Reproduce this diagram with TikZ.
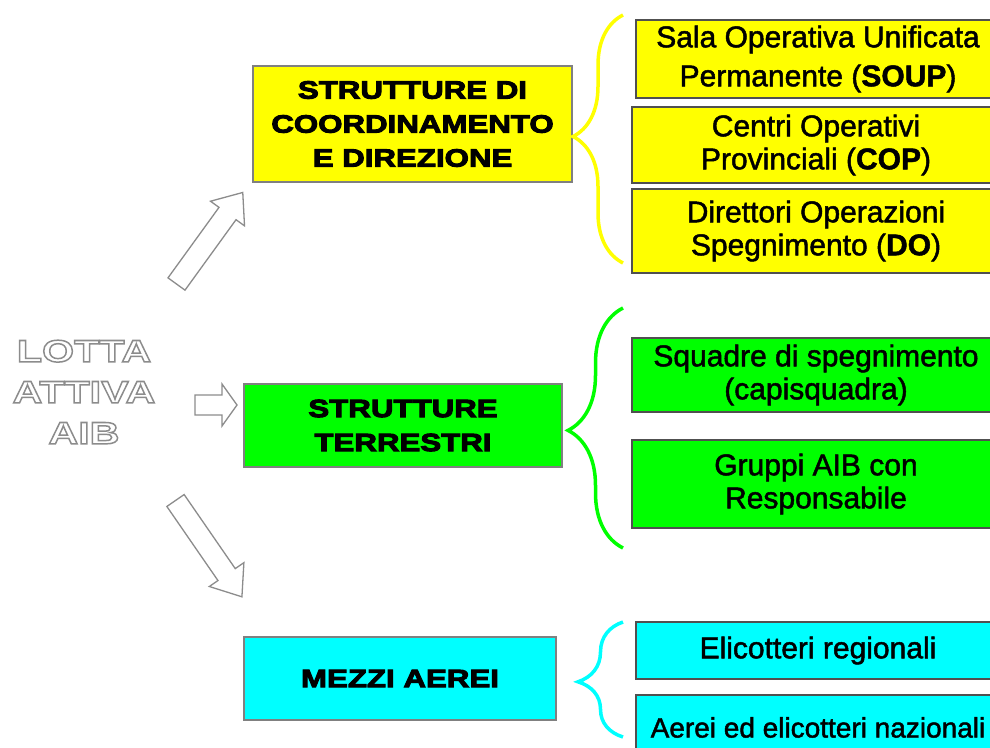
\documentclass[tikz,border=0pt]{standalone}
\usepackage{fontspec}
\setmainfont{Liberation Sans}
\newfontfamily\widefont[FakeStretch=1.25, FakeBold=4]{Liberation Sans}
\newfontfamily\lottafont[FakeStretch=1.33]{Liberation Sans}
\newfontfamily\subfont[FakeBold=1.6]{Liberation Sans}
\usetikzlibrary{decorations.pathreplacing}
\definecolor{cyel}{HTML}{FFFF00}
\definecolor{cgrn}{HTML}{00FF00}
\definecolor{ccyn}{HTML}{00FFFF}
\definecolor{cbrd}{HTML}{808080}
\definecolor{csub}{HTML}{505050}
\newcommand\outlinetext[1]{%
  \textcolor{white}{\special{pdf:literal direct 2 Tr 1.5 w 0.55 0.55 0.55 RG}#1\special{pdf:literal direct 0 Tr}}}
\tikzset{
  mainbox/.style={draw=cbrd, line width=1.5pt, inner sep=0pt, align=center,
    font={\widefont\bfseries\fontsize{25}{34}\selectfont}},
  subbox/.style={draw=csub, line width=1.2pt, inner sep=0pt, align=center,
    font={\subfont\fontsize{30}{33}\selectfont}},
  bracestyle/.style={line width=3.5pt, decorate},
  blockarrow/.style={draw=black!45, line width=1.3pt, fill=white, line join=miter}
}
\begin{document}
\begin{tikzpicture}[x=1pt,y=-1pt]
\useasboundingbox[fill=white] (0,0) rectangle (990,747);

% left title
\node[align=center, font={\lottafont\bfseries\fontsize{31}{41}\selectfont}] (lotta) at (84,392)
  {\outlinetext{LOTTA}\\\outlinetext{ATTIVA}\\\outlinetext{AIB}};

% block arrows
\draw[blockarrow, shift={(176.5,284)}, rotate=54.1]
  (0,-10.5) -- (87,-10.5) -- (87,-21) -- (113,0) -- (87,21) -- (87,10.5) -- (0,10.5) -- cycle;
\draw[blockarrow, shift={(195,405)}]
  (0,-10) -- (27,-10) -- (27,-21) -- (42,0) -- (27,21) -- (27,10) -- (0,10) -- cycle;
\draw[blockarrow, shift={(175.5,500.5)}, rotate=-55.4]
  (0,-10.5) -- (90,-10.5) -- (90,-21) -- (117,0) -- (90,21) -- (90,10.5) -- (0,10.5) -- cycle;

% main boxes
\node[mainbox, fill=cyel, minimum width=319pt, minimum height=116pt] (coord) at (412.5,124)
  {STRUTTURE DI\\COORDINAMENTO\\E DIREZIONE};
\node[mainbox, fill=cgrn, minimum width=318pt, minimum height=83pt] (terr) at (403,425.5)
  {STRUTTURE\\TERRESTRI};
\node[mainbox, fill=ccyn, minimum width=312pt, minimum height=83pt] (aerei) at (400,678.5)
  {MEZZI AEREI};

% sub boxes
\node[subbox, fill=cyel, minimum width=364pt, minimum height=78pt, font={\subfont\fontsize{30}{39}\selectfont}] (soup) at (818,59)
  {Sala Operativa Unificata\\Permanente (\textbf{SOUP})};
\node[subbox, fill=cyel, minimum width=368pt, minimum height=76pt] (cop) at (816,145)
  {Centri Operativi\\Provinciali (\textbf{COP})};
\node[subbox, fill=cyel, minimum width=368pt, minimum height=84pt] (do) at (816,231)
  {Direttori Operazioni\\Spegnimento (\textbf{DO})};
\node[subbox, fill=cgrn, minimum width=368pt, minimum height=74pt] (squadre) at (816,375)
  {Squadre di spegnimento\\(capisquadra)};
\node[subbox, fill=cgrn, minimum width=368pt, minimum height=88pt] (gruppi) at (816,484)
  {Gruppi AIB con\\Responsabile};
\node[subbox, fill=ccyn, minimum width=364pt, minimum height=57pt] (elireg) at (818,650.5)
  {Elicotteri regionali};
\node[subbox, fill=ccyn, minimum width=364pt, minimum height=65pt, font={\subfont\fontsize{28}{33}\selectfont}] (elinaz) at (818,727.5)
  {Aerei ed elicotteri nazionali};

% braces
\coordinate (yb1) at (623,263);
\coordinate (yb2) at (623,15);
\coordinate (gb1) at (623,548);
\coordinate (gb2) at (623,308);
\coordinate (cb1) at (623,737);
\coordinate (cb2) at (623,622);
\draw[bracestyle, draw=cyel, decoration={brace, amplitude=50pt, aspect=0.51}] (yb1) -- (yb2);
\draw[bracestyle, draw=cgrn, decoration={brace, amplitude=55pt, aspect=0.49}] (gb1) -- (gb2);
\draw[bracestyle, draw=ccyn, decoration={brace, amplitude=45pt, aspect=0.48}] (cb1) -- (cb2);
\end{tikzpicture}
\end{document}
